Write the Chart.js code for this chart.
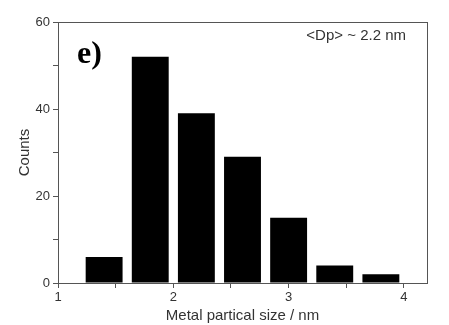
<!DOCTYPE html>
<html>
<head>
  <meta charset="UTF-8">
  <title>Particle size distribution</title>
  <script src="https://cdn.jsdelivr.net/npm/chart.js"></script>
  <style>
    body { margin: 0; background: #fff; }
    #wrap { width: 449px; height: 325px; }
  </style>
</head>
<body>
  <div id="wrap"><canvas id="hist"></canvas></div>

  <script>
    // bin centres (nm) and counts
    const binCentres = [1.4, 1.8, 2.2, 2.6, 3.0, 3.4, 3.8];
    const counts = [6, 52, 39, 29, 15, 4, 2];
    const xTickLabels = [1, 2, 3, 4];
    const yTickLabels = [0, 20, 40, 60];

    const axisCol = '#555';
    const textCol = '#333';
    const font = 'Liberation Sans, Arial, sans-serif';

    // frame + annotations
    const decor = {
      id: 'decor',
      afterDraw(chart) {
        const { ctx, chartArea: a } = chart;
        ctx.save();
        ctx.strokeStyle = axisCol;
        ctx.lineWidth = 1;
        ctx.strokeRect(a.left + 0.5, a.top + 0.5, a.right - a.left, a.bottom - a.top);

        ctx.fillStyle = '#000';
        ctx.font = 'bold 32px "Liberation Serif", "Times New Roman", serif';
        ctx.textBaseline = 'alphabetic';
        ctx.fillText('e)', 77, 63);

        ctx.fillStyle = textCol;
        ctx.font = '15px ' + font;
        ctx.textAlign = 'right';
        ctx.fillText('<Dp> ~ 2.2 nm', 406, 40);
        ctx.restore();
      }
    };

    new Chart(document.getElementById('hist'), {
      type: 'bar',
      data: {
        datasets: [{
          data: binCentres.map((x, i) => ({ x: x, y: counts[i] })),
          backgroundColor: '#000',
          borderWidth: 0,
          barPercentage: 0.8,
          categoryPercentage: 1.0
        }]
      },
      options: {
        responsive: true,
        maintainAspectRatio: false,
        animation: false,
        layout: { padding: { top: 22, right: 22, left: 0, bottom: 0 } },
        plugins: {
          legend: { display: false },
          tooltip: { enabled: false }
        },
        scales: {
          x: {
            type: 'linear',
            offset: false,
            min: 1,
            max: 4.2,
            afterFit: s => { s.height = 42; },
            afterBuildTicks: s => {
              s.ticks = [1, 1.5, 2, 2.5, 3, 3.5, 4].map(v => ({ value: v }));
            },
            ticks: {
              autoSkip: false,
              maxRotation: 0,
              padding: 2,
              color: textCol,
              font: { family: font, size: 13 },
              callback: v => xTickLabels.includes(v) ? String(v) : ''
            },
            grid: {
              offset: false,
              drawOnChartArea: false,
              drawTicks: true,
              tickLength: 5,
              color: axisCol
            },
            border: { color: axisCol, width: 1 },
            title: {
              display: true,
              text: 'Metal partical size / nm',
              color: textCol,
              font: { family: font, size: 15 },
              padding: { top: 0, bottom: 0 }
            }
          },
          y: {
            min: 0,
            max: 60,
            afterFit: s => { s.width = 58; },
            afterBuildTicks: s => {
              s.ticks = [0, 10, 20, 30, 40, 50, 60].map(v => ({ value: v }));
            },
            ticks: {
              padding: 3,
              color: textCol,
              font: { family: font, size: 13 },
              callback: v => yTickLabels.includes(v) ? String(v) : ''
            },
            grid: {
              drawOnChartArea: false,
              drawTicks: true,
              tickLength: 5,
              color: axisCol
            },
            border: { color: axisCol, width: 1 },
            title: {
              display: true,
              text: 'Counts',
              color: textCol,
              font: { family: font, size: 15 },
              padding: { top: 16, bottom: 0 }
            }
          }
        }
      },
      plugins: [decor]
    });
  </script>
</body>
</html>
